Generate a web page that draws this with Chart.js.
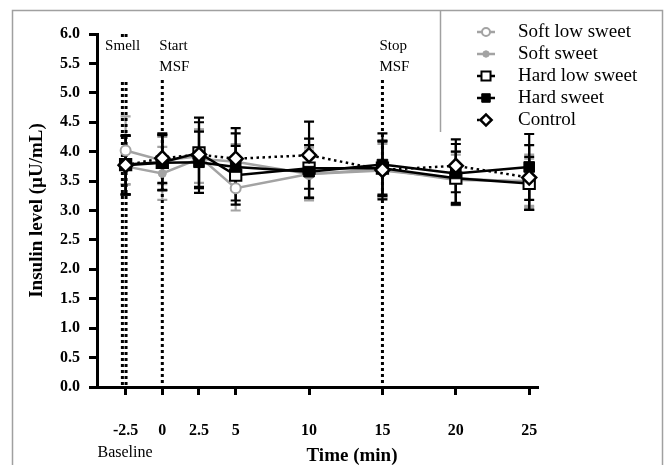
<!DOCTYPE html>
<html>
<head>
<meta charset="utf-8">
<script src="https://cdn.jsdelivr.net/npm/chart.js@4.4.1/dist/chart.umd.min.js"></script>
<style>
body { margin: 0; background: #fff; }
</style>
</head>
<body>
<canvas id="insulinChart" width="665" height="465"></canvas>
<script>
const times = [-2.5, 0, 2.5, 5, 10, 15, 20, 25];
const xTicks = [-2.5, 0, 2.5, 5, 10, 15, 20, 25];

const softLowSweet = [4.02, 3.85, 3.92, 3.38, 3.62, 3.68, 3.55, 3.48];
const softLowSweetErr = [0.58, 0.40, 0.45, 0.38, 0.45, 0.45, 0.45, 0.40];
const softSweet = [3.75, 3.63, 3.88, 3.83, 3.62, 3.70, 3.52, 3.50];
const softSweetErr = [0.30, 0.45, 0.50, 0.30, 0.40, 0.48, 0.43, 0.45];
const hardLowSweet = [3.78, 3.82, 3.98, 3.60, 3.72, 3.72, 3.55, 3.46];
const hardLowSweetErr = [0.50, 0.47, 0.60, 0.50, 0.50, 0.45, 0.45, 0.45];
const hardSweet = [3.77, 3.81, 3.82, 3.74, 3.66, 3.78, 3.63, 3.74];
const hardSweetErr = [0.50, 0.47, 0.52, 0.57, 0.45, 0.53, 0.50, 0.56];
const control = [3.77, 3.89, 3.95, 3.88, 3.94, 3.69, 3.76, 3.56];
const controlErr = [0.50, 0.42, 0.55, 0.52, 0.57, 0.50, 0.45, 0.55];

const seriesNames = ['Soft low sweet', 'Soft sweet', 'Hard low sweet', 'Hard sweet', 'Control'];

// event markers (dotted verticals) and their captions
const smellLines = [-2.72, -2.47];
const msfLines = [0, 15];
const eventLabels = [['Smell'], ['Start', 'MSF'], ['Stop', 'MSF']];
const eventLabelAt = [-2.5, 0, 15];

const GRAY = '#a3a3a3';
const SERIF = '"Liberation Serif", "Times New Roman", serif';

function toPoints(vals) {
    return vals.map((v, i) => ({ x: times[i], y: v }));
}

const datasets = [
    {
        label: seriesNames[0], data: toPoints(softLowSweet), errors: softLowSweetErr, order: 5,
        borderColor: GRAY, borderWidth: 2.5, pointStyle: 'circle', pointRadius: 5,
        pointBackgroundColor: '#fff', pointBorderColor: GRAY, pointBorderWidth: 2
    },
    {
        label: seriesNames[1], data: toPoints(softSweet), errors: softSweetErr, order: 4,
        borderColor: GRAY, borderWidth: 2.5, pointStyle: 'circle', pointRadius: 4,
        pointBackgroundColor: GRAY, pointBorderColor: GRAY, pointBorderWidth: 1
    },
    {
        label: seriesNames[2], data: toPoints(hardLowSweet), errors: hardLowSweetErr, order: 3,
        borderColor: '#000', borderWidth: 2.5, pointStyle: 'rect', pointRadius: 8,
        pointBackgroundColor: '#fff', pointBorderColor: '#000', pointBorderWidth: 2
    },
    {
        label: seriesNames[3], data: toPoints(hardSweet), errors: hardSweetErr, order: 2,
        borderColor: '#000', borderWidth: 2.5, pointStyle: 'rect', pointRadius: 7.5,
        pointBackgroundColor: '#000', pointBorderColor: '#000', pointBorderWidth: 1
    },
    {
        label: seriesNames[4], data: toPoints(control), errors: controlErr, order: 1,
        borderColor: '#000', borderWidth: 2.5, borderDash: [2.5, 3.5], pointStyle: 'rectRot', pointRadius: 7,
        pointBackgroundColor: '#fff', pointBorderColor: '#000', pointBorderWidth: 2.5
    }
];

const errorBars = {
    id: 'errorBars',
    beforeDatasetsDraw(chart) {
        const ctx = chart.ctx;
        const xs = chart.scales.x, ys = chart.scales.y;
        ctx.save();
        chart.data.datasets.forEach(ds => {
            ctx.strokeStyle = ds.borderColor;
            ctx.lineWidth = 2.2;
            ds.data.forEach((p, i) => {
                const x = xs.getPixelForValue(p.x);
                const top = ys.getPixelForValue(p.y + ds.errors[i]);
                const bot = ys.getPixelForValue(p.y - ds.errors[i]);
                ctx.beginPath();
                ctx.moveTo(x, top); ctx.lineTo(x, bot);
                ctx.moveTo(x - 5, top); ctx.lineTo(x + 5, top);
                ctx.moveTo(x - 5, bot); ctx.lineTo(x + 5, bot);
                ctx.stroke();
            });
        });
        ctx.restore();
    }
};

const decorations = {
    id: 'decorations',
    beforeDatasetsDraw(chart) {
        const ctx = chart.ctx;
        const xs = chart.scales.x, ys = chart.scales.y;
        ctx.save();
        ctx.strokeStyle = '#000';
        ctx.lineWidth = 3;
        ctx.setLineDash([3, 3]);
        smellLines.forEach(t => {
            const x = xs.getPixelForValue(t);
            ctx.beginPath();
            ctx.moveTo(x, ys.getPixelForValue(6));
            ctx.lineTo(x, ys.bottom);
            ctx.stroke();
        });
        msfLines.forEach(t => {
            const x = xs.getPixelForValue(t);
            ctx.beginPath();
            ctx.moveTo(x, 80);
            ctx.lineTo(x, ys.bottom);
            ctx.stroke();
        });
        ctx.setLineDash([]);

        // captions with white boxes
        ctx.font = '15px ' + SERIF;
        ctx.textBaseline = 'middle';
        eventLabels.forEach((lines, k) => {
            const x = xs.getPixelForValue(eventLabelAt[k]);
            if (k === 0) {
                ctx.fillStyle = '#fff';
                ctx.fillRect(x - 18, 37, 36, 43);
                ctx.fillStyle = '#000';
                ctx.textAlign = 'center';
                ctx.fillText(lines[0], x - 3, 46);
            } else {
                ctx.fillStyle = '#000';
                ctx.textAlign = 'left';
                lines.forEach((s, j) => ctx.fillText(s, x - 3, 46 + j * 21));
            }
        });
        ctx.restore();
    },
    afterDraw(chart) {
        const ctx = chart.ctx;
        ctx.save();
        // outer frame + legend box
        ctx.strokeStyle = '#a0a0a0';
        ctx.lineWidth = 1.5;
        ctx.strokeRect(12.5, 10.5, 650, 470);
        ctx.beginPath();
        ctx.moveTo(440.5, 10.5);
        ctx.lineTo(440.5, 132);
        ctx.stroke();

        // legend
        chart.data.datasets.forEach((ds, i) => {
            const y = 32 + i * 22;
            ctx.strokeStyle = ds.borderColor;
            ctx.lineWidth = 2.5;
            ctx.setLineDash(ds.borderDash || []);
            ctx.beginPath();
            ctx.moveTo(477, y); ctx.lineTo(495, y);
            ctx.stroke();
            ctx.setLineDash([]);
            ctx.fillStyle = ds.pointBackgroundColor;
            ctx.strokeStyle = ds.pointBorderColor;
            ctx.lineWidth = ds.pointBorderWidth;
            Chart.helpers.drawPoint(ctx, {
                pointStyle: ds.pointStyle, radius: ds.pointRadius * 0.8, rotation: 0,
                borderWidth: ds.pointBorderWidth
            }, 486, y);
            ctx.fillStyle = '#000';
            ctx.font = '19px ' + SERIF;
            ctx.textAlign = 'left';
            ctx.textBaseline = 'middle';
            ctx.fillText(ds.label, 518, y);
        });

        // x title and baseline note
        ctx.fillStyle = '#000';
        ctx.textAlign = 'center';
        ctx.textBaseline = 'middle';
        ctx.font = 'bold 19px ' + SERIF;
        ctx.fillText('Time (min)', 352, 456);
        ctx.font = '16px ' + SERIF;
        ctx.fillText('Baseline', 125, 453);
        ctx.restore();
    }
};

new Chart(document.getElementById('insulinChart'), {
    type: 'line',
    data: { datasets: datasets },
    options: {
        responsive: false,
        animation: false,
        layout: { padding: { left: 0, top: 34, right: 127, bottom: 0 } },
        elements: { line: { tension: 0 } },
        plugins: { legend: { display: false }, tooltip: { enabled: false } },
        scales: {
            x: {
                type: 'linear',
                min: -4.45,
                max: 25.6,
                afterBuildTicks: scale => { scale.ticks = xTicks.map(v => ({ value: v })); },
                afterFit: scale => { scale.height = 78; },
                grid: { drawOnChartArea: false, drawTicks: true, tickLength: 8, tickWidth: 3, tickColor: '#000' },
                border: { display: true, color: '#000', width: 3 },
                ticks: {
                    autoSkip: false, maxRotation: 0, padding: 26, color: '#000',
                    font: { family: SERIF, size: 16, weight: 'bold' },
                    callback: v => String(v)
                }
            },
            y: {
                min: 0,
                max: 6,
                afterFit: scale => { scale.width = 97; },
                grid: { drawOnChartArea: false, drawTicks: true, tickLength: 8, tickWidth: 3, tickColor: '#000' },
                border: { display: true, color: '#000', width: 3 },
                ticks: {
                    stepSize: 0.5, padding: 9, color: '#000',
                    font: { family: SERIF, size: 16, weight: 'bold' },
                    callback: v => v.toFixed(1)
                },
                title: {
                    display: true, text: 'Insulin level (\u00b5U/mL)', color: '#000',
                    font: { family: SERIF, size: 19, weight: 'bold' },
                    padding: { top: 26, bottom: 0 }
                }
            }
        }
    },
    plugins: [errorBars, decorations]
});
</script>
</body>
</html>
